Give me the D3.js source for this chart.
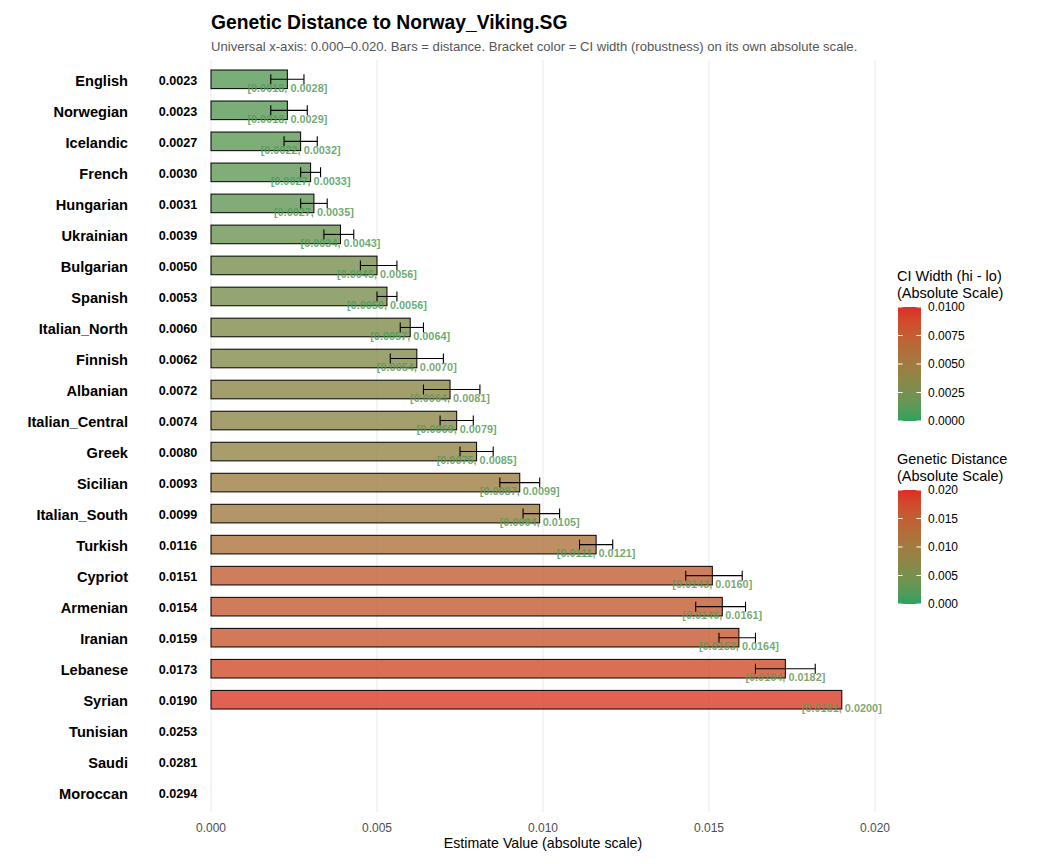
<!DOCTYPE html>
<html><head><meta charset="utf-8">
<script src="https://cdn.jsdelivr.net/npm/d3@7"></script>
<style>body{margin:0;background:#fff;} svg{font-family:"Liberation Sans",Arial,sans-serif;}</style>
</head><body><svg id="c" width="1051" height="864"></svg>
<script>
const categories = ["English","Norwegian","Icelandic","French","Hungarian","Ukrainian","Bulgarian","Spanish","Italian_North","Finnish","Albanian","Italian_Central","Greek","Sicilian","Italian_South","Turkish","Cypriot","Armenian","Iranian","Lebanese","Syrian","Tunisian","Saudi","Moroccan"];
const estimates = [0.0023,0.0023,0.0027,0.0030,0.0031,0.0039,0.0050,0.0053,0.0060,0.0062,0.0072,0.0074,0.0080,0.0093,0.0099,0.0116,0.0151,0.0154,0.0159,0.0173,0.0190,0.0253,0.0281,0.0294];
const ciLo = [0.0018,0.0018,0.0022,0.0027,0.0027,0.0034,0.0045,0.0050,0.0057,0.0054,0.0064,0.0069,0.0075,0.0087,0.0094,0.0111,0.0143,0.0146,0.0153,0.0164,0.0181,null,null,null];
const ciHi = [0.0028,0.0029,0.0032,0.0033,0.0035,0.0043,0.0056,0.0056,0.0064,0.0070,0.0081,0.0079,0.0085,0.0099,0.0105,0.0121,0.0160,0.0161,0.0164,0.0182,0.02003,null,null,null];
const xTicks = [0,0.005,0.010,0.015,0.020];
const ciLegendTicks = [0,0.0025,0.005,0.0075,0.01];
const distLegendTicks = [0,0.005,0.010,0.015,0.020];

const svg = d3.select("#c");
const x = d3.scaleLinear().domain([0,0.02]).range([211,875]);
const y = d3.scaleBand().domain(categories).range([63.8,808.3]).paddingInner(0.4).paddingOuter(0.2);
const grad = d3.interpolateLab("#2ca25f","#de2d26");
const fillScale = d3.scaleSequential(grad).domain([0,0.02]);
const ciScale = d3.scaleSequential(grad).domain([0,0.01]);

// grid
svg.append("g").selectAll("line").data(xTicks).join("line")
  .attr("x1",d=>x(d)).attr("x2",d=>x(d)).attr("y1",60).attr("y2",812)
  .attr("stroke","#ebebeb").attr("stroke-width",1.1);

// title
svg.append("text").attr("x",211).attr("y",29).attr("font-size",19.3).attr("font-weight","bold").attr("fill","#000")
  .text("Genetic Distance to Norway_Viking.SG");
svg.append("text").attr("x",211).attr("y",50.5).attr("font-size",13.1).attr("fill","#555")
  .text("Universal x-axis: 0.000–0.020. Bars = distance. Bracket color = CI width (robustness) on its own absolute scale.");

const data = categories.map((c,i)=>({c, est:estimates[i], lo:ciLo[i], hi:ciHi[i]}));
const bw = y.bandwidth();

// bars
svg.append("g").selectAll("rect").data(data.filter(d=>d.est<=0.02)).join("rect")
  .attr("x",x(0)).attr("y",d=>y(d.c)).attr("width",d=>x(d.est)-x(0)).attr("height",bw)
  .attr("fill",d=>fillScale(d.est)).attr("fill-opacity",0.8)
  .attr("stroke","#000").attr("stroke-width",1);

// error bars (hidden when out of x-range)
const eb = data.filter(d=>d.lo!=null && d.hi<=0.02);
const ebg = svg.append("g").attr("stroke","#000").attr("stroke-width",1.1);
eb.forEach(d=>{
  const cy = y(d.c)+bw/2;
  ebg.append("line").attr("x1",x(d.lo)).attr("x2",x(d.hi)).attr("y1",cy).attr("y2",cy);
  ebg.append("line").attr("x1",x(d.lo)).attr("x2",x(d.lo)).attr("y1",cy-5).attr("y2",cy+5);
  ebg.append("line").attr("x1",x(d.hi)).attr("x2",x(d.hi)).attr("y1",cy-5).attr("y2",cy+5);
});

// CI labels
svg.append("g").selectAll("text").data(data.filter(d=>d.lo!=null)).join("text")
  .attr("x",d=>x(d.est)).attr("y",d=>y(d.c)+bw/2+12.5).attr("text-anchor","middle")
  .attr("font-size",10.9).attr("font-weight","bold")
  .attr("fill",d=>ciScale(d.hi-d.lo)).attr("fill-opacity",0.85)
  .text(d=>`[${d.lo.toFixed(4)}, ${d.hi.toFixed(4)}]`);

// category labels
svg.append("g").selectAll("text").data(data).join("text")
  .attr("x",128).attr("y",d=>y(d.c)+bw/2).attr("dy","0.43em").attr("text-anchor","end")
  .attr("font-size",14.6).attr("font-weight","bold").attr("fill","#000").text(d=>d.c);
// value labels
svg.append("g").selectAll("text").data(data).join("text")
  .attr("x",178).attr("y",d=>y(d.c)+bw/2).attr("dy","0.45em").attr("text-anchor","middle")
  .attr("font-size",12.6).attr("font-weight","bold").attr("fill","#000").text(d=>d.est.toFixed(4));

// x axis
svg.append("g").selectAll("text").data(xTicks).join("text")
  .attr("x",d=>x(d)).attr("y",832).attr("text-anchor","middle").attr("font-size",12).attr("fill","#4d4d4d")
  .text(d=>d3.format(".3f")(d));
svg.append("text").attr("x",x(0.01)).attr("y",848).attr("text-anchor","middle").attr("font-size",14.2).attr("fill","#000")
  .text("Estimate Value (absolute scale)");

// legends
const defs = svg.append("defs");
function legend(id, top, titleLines, domain, ticks, fmt){
  const g = defs.append("linearGradient").attr("id",id).attr("x1",0).attr("x2",0).attr("y1",1).attr("y2",0);
  d3.range(0,1.0001,0.1).forEach(t=>g.append("stop").attr("offset",t).attr("stop-color",grad(t)));
  titleLines.forEach((t,i)=>svg.append("text").attr("x",897).attr("y",top-26+i*16.5).attr("font-size",14.5).attr("fill","#000").text(t));
  const h = 114, x0 = 898, w = 23;
  const s = d3.scaleLinear().domain(domain).range([top+h, top]);
  svg.append("rect").attr("x",x0).attr("y",top).attr("width",w).attr("height",h).attr("fill",`url(#${id})`);
  const tg = svg.append("g");
  ticks.forEach(t=>{
    tg.append("line").attr("x1",x0).attr("x2",x0+4.6).attr("y1",s(t)).attr("y2",s(t)).attr("stroke","#fff");
    tg.append("line").attr("x1",x0+w-4.6).attr("x2",x0+w).attr("y1",s(t)).attr("y2",s(t)).attr("stroke","#fff");
    svg.append("text").attr("x",928).attr("y",s(t)).attr("dy","0.35em").attr("font-size",12).attr("fill","#000").text(fmt(t));
  });
}
legend("g1",307,["CI Width (hi - lo)","(Absolute Scale)"],[0,0.01],ciLegendTicks,d3.format(".4f"));
legend("g2",490,["Genetic Distance","(Absolute Scale)"],[0,0.02],distLegendTicks,d3.format(".3f"));
</script></body></html>
